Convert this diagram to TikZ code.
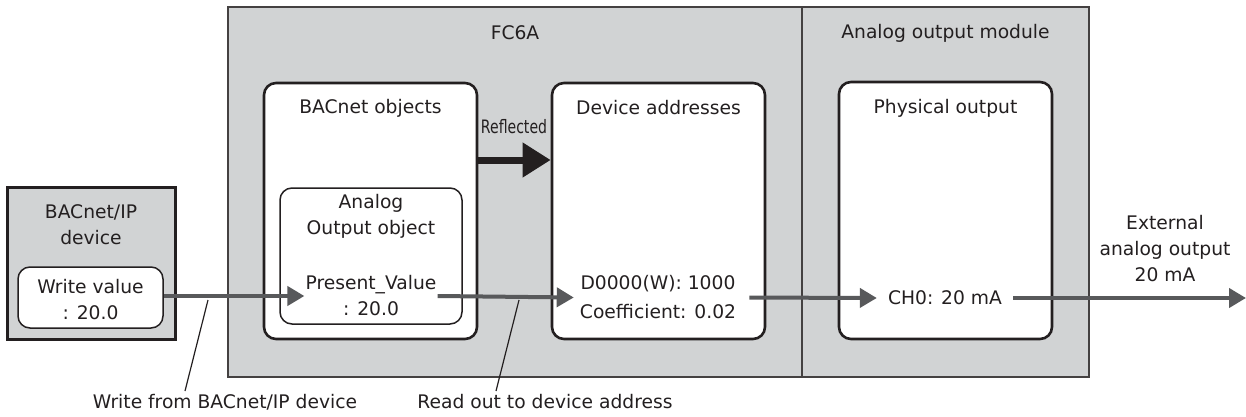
\documentclass[tikz,border=0pt]{standalone}
\usepackage{fontspec}
\setmainfont{DejaVu Sans}
\newfontfamily\narrowfont[FakeStretch=0.76]{DejaVu Sans}
\usetikzlibrary{arrows.meta, positioning}
\usepackage{xcolor}
\definecolor{PanelGray}{HTML}{D1D3D4}
\definecolor{LineBlack}{HTML}{231F20}
\definecolor{ArrowGray}{HTML}{58595B}
\newcommand{\lblfont}{\fontsize{18.7}{26}\selectfont}
\tikzset{
    % Box styles
    panel/.style={
        rectangle,
        draw=LineBlack!85,
        fill=PanelGray,
        line width=1.5pt,
        inner sep=0pt
    },
    device/.style={
        rectangle,
        draw=LineBlack,
        fill=PanelGray,
        line width=3pt,
        inner sep=0pt
    },
    area/.style={
        rectangle,
        rounded corners=12pt,
        draw=LineBlack,
        fill=white,
        line width=2.6pt,
        inner sep=0pt
    },
    object/.style={
        rectangle,
        rounded corners=12pt,
        draw=LineBlack,
        fill=white,
        line width=1.5pt,
        inner sep=0pt
    },
    label/.style={
        font=\lblfont,
        text=LineBlack,
        align=center,
        inner sep=0pt
    },
    % Arrow styles
    arrow/.style={
        -{Triangle[length=17pt,width=19pt]},
        line width=4pt,
        draw=ArrowGray
    },
    thickarrow/.style={
        -{Triangle[length=28pt,width=33pt]},
        line width=7pt,
        draw=LineBlack
    },
    leader/.style={
        line width=1.2pt,
        draw=LineBlack
    }
}

\begin{document}
\begin{tikzpicture}[x=1pt, y=-1pt]
    \useasboundingbox (0,0) rectangle (1246,417);

    % housings
    \node[panel, minimum width=574pt, minimum height=370pt] (fc6a) at (515,192) {};
    \node[panel, minimum width=287pt, minimum height=370pt] (aom) at (945.5,192) {};
    \node[label] at (515,33) {FC6A};
    \node[label] at (945.5,33) {Analog output module};

    % BACnet/IP device
    \node[device, minimum width=168pt, minimum height=152pt] (bacdev) at (91,263) {};
    \node[label] at (91,224.5) {BACnet/IP\\device};
    \node[object, minimum width=145pt, minimum height=61pt] (wval) at (90.5,297.5) {};
    \node[label] at (90.5,300) {Write value\\: 20.0};

    % FC6A contents
    \node[area, minimum width=213pt, minimum height=256pt] (bacobj) at (370.5,211) {};
    \node[label] at (370.5,108) {BACnet objects};
    \node[object, minimum width=182pt, minimum height=136pt] (aoobj) at (371,256) {};
    \node[label] at (371,216) {Analog\\Output object};
    \node[label, inner sep=1pt] (pv) at (371,296) {Present\_Value\\: 20.0};

    \node[area, minimum width=213pt, minimum height=256pt] (devaddr) at (658.5,211) {};
    \node[label] at (658.5,108) {Device addresses};
    \node[label, inner sep=6pt, font=\fontsize{18.7}{29}\selectfont] (daval) at (658,297.5) {D0000(W): 1000\\Coefficient: 0.02};

    \node[font=\narrowfont\fontsize{18.5}{22}\selectfont, text=LineBlack, inner sep=0pt] (refl) at (514,127) {Reflected};
    \draw[thickarrow] ([yshift=51pt]bacobj.east) -- ([yshift=51pt]devaddr.west);

    % analog output module contents
    \node[area, minimum width=213pt, minimum height=257pt] (physout) at (945.5,210.5) {};
    \node[label] at (945.5,108) {Physical output};
    \node[label, inner sep=11pt] (ch0) at (945,298) {CH0: 20 mA};

    \node[label] (ext) at (1165,249) {External\\analog output\\20 mA};
    \coordinate (extout) at (1246,298);

    % data flow
    \draw[arrow] (wval.east |- pv.west) -- (pv.west);
    \draw[arrow] (pv.east) -- (daval.west);
    \draw[arrow, shorten <=7pt] (daval.east) -- (ch0.west);
    \draw[arrow] (ch0.east) -- (extout);

    % leader labels
    \node[label, anchor=north, inner sep=3pt] (wrlbl) at (225,391) {Write from BACnet/IP device};
    \node[label, anchor=north, inner sep=3pt] (rdlbl) at (545,391) {Read out to device address};
    \coordinate (wrpt) at (208,300);
    \coordinate (rdpt) at (519,300);
    \draw[leader] (wrpt) -- ([xshift=-40pt]wrlbl.north);
    \draw[leader] (rdpt) -- ([xshift=-49pt]rdlbl.north);
\end{tikzpicture}
\end{document}
